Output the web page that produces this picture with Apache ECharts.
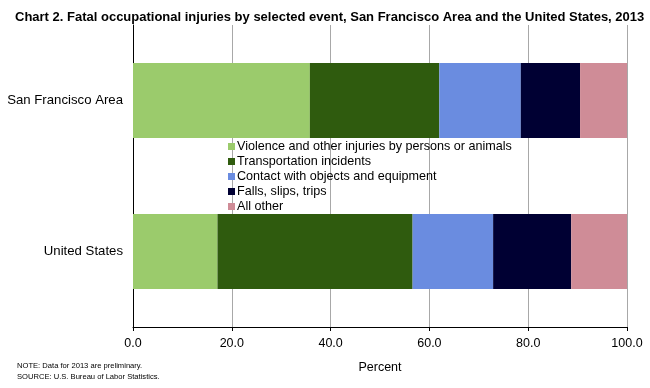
<!DOCTYPE html>
<html><head><meta charset="utf-8">
<script src="https://cdn.jsdelivr.net/npm/echarts@6/dist/echarts.min.js"></script>
<style>html,body{margin:0;padding:0;background:#fff}#c{width:650px;height:388px}</style>
</head><body><div id="c"></div>
<script>
const categories = ["San Francisco Area", "United States"];
const seriesNames = ["Violence and other injuries by persons or animals", "Transportation incidents", "Contact with objects and equipment", "Falls, slips, trips", "All other"];
const violence = [35.8, 17.1];
const transportation = [26.2, 39.5];
const contact = [16.5, 16.3];
const falls = [12.0, 15.8];
const allOther = [9.5, 11.3];
const xTicks = [0, 20, 40, 60, 80, 100];
const colors = ["#9BCB6C", "#2F5B0E", "#6A8CE0", "#000033", "#CF8C97"];

const titleText = 'Chart 2. Fatal occupational injuries by selected event, San Francisco Area and the United States, 2013';
// fit title width to the reference span
const cv = document.createElement('canvas').getContext('2d');
let tfs = 14;
for (; tfs > 9; tfs -= 0.25) {
  cv.font = 'bold ' + tfs + 'px "Liberation Sans Narrow", "Liberation Sans", Arial, sans-serif';
  if (cv.measureText(titleText).width <= 633) break;
}

const values = [violence, transportation, contact, falls, allOther];
const chart = echarts.init(document.getElementById('c'), null, {renderer: 'canvas'});
chart.setOption({
  animation: false,
  backgroundColor: '#fff',
  title: [
    {text: titleText, left: 10, top: 6,
     textStyle: {fontFamily: '"Liberation Sans Narrow", "Liberation Sans", Arial, sans-serif', fontWeight: 'bold', fontSize: tfs, color: '#000'}},
    {text: 'NOTE: Data for 2013 are preliminary.\nSOURCE: U.S. Bureau of Labor Statistics.', left: 12, top: 355,
     textStyle: {fontFamily: 'Liberation Sans, Arial, sans-serif', fontWeight: 'normal', fontSize: 7.6, lineHeight: 11, color: '#000'}}
  ],
  legend: {
    orient: 'vertical', left: 223, top: 135, itemWidth: 7, itemHeight: 7, itemGap: 2,
    icon: 'rect', data: seriesNames,
    textStyle: {fontFamily: 'Liberation Sans, Arial, sans-serif', fontSize: 12.6, color: '#000', padding: [0,0,0,-3]}
  },
  grid: {left: 133, right: 23, top: 25, bottom: 61, containLabel: false},
  xAxis: {
    type: 'value', min: 0, max: 100, interval: 20,
    name: 'Percent', nameLocation: 'middle', nameGap: 34,
    nameTextStyle: {fontFamily: 'Liberation Sans, Arial, sans-serif', fontSize: 12.5, color: '#000'},
    axisLine: {show: true, lineStyle: {color: '#000', width: 1}},
    axisTick: {show: true, length: 4, inside: false, lineStyle: {color: '#000'}},
    axisLabel: {fontFamily: 'Liberation Sans, Arial, sans-serif', fontSize: 12.5, color: '#000', margin: 10,
      formatter: v => xTicks.includes(v) ? v.toFixed(1) : ''},
    splitLine: {show: true, lineStyle: {color: '#a8a8a8', width: 1}}
  },
  yAxis: {
    type: 'category', data: categories, inverse: true,
    axisLine: {show: true, lineStyle: {color: '#000', width: 1}},
    axisTick: {show: false},
    axisLabel: {fontFamily: 'Liberation Sans, Arial, sans-serif', fontSize: 13.2, color: '#000', margin: 10}
  },
  series: seriesNames.map((n, i) => ({
    name: n, type: 'bar', stack: 'total', data: values[i], barWidth: 75,
    itemStyle: {color: colors[i]}
  }))
});
</script></body></html>
